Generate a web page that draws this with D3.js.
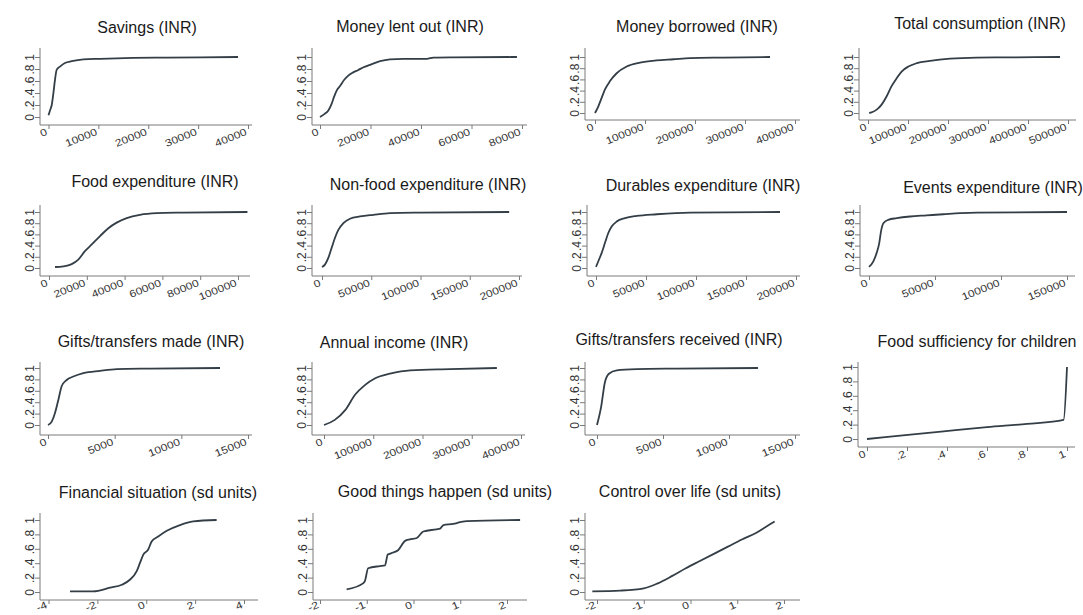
<!DOCTYPE html>
<html>
<head>
<meta charset="utf-8">
<script src="https://cdn.jsdelivr.net/npm/d3@7"></script>
<style>
  html, body { margin: 0; padding: 0; background: #ffffff; }
  svg { display: block; }
</style>
</head>
<body>
<script>
// ---------------- DATA ----------------
const titles = [
  "Savings (INR)", "Money lent out (INR)", "Money borrowed (INR)", "Total consumption (INR)",
  "Food expenditure (INR)", "Non-food expenditure (INR)", "Durables expenditure (INR)", "Events expenditure (INR)",
  "Gifts/transfers made (INR)", "Annual income (INR)", "Gifts/transfers received (INR)", "Food sufficiency for children",
  "Financial situation (sd units)", "Good things happen (sd units)", "Control over life (sd units)"
];

const yTickValues = [0, 0.2, 0.4, 0.6, 0.8, 1];
const yTickLabels = ["0", ".2", ".4", ".6", ".8", "1"];

const xTicks = [
  [0, 10000, 20000, 30000, 40000],
  [0, 20000, 40000, 60000, 80000],
  [0, 100000, 200000, 300000, 400000],
  [0, 100000, 200000, 300000, 400000, 500000],
  [0, 20000, 40000, 60000, 80000, 100000],
  [0, 50000, 100000, 150000, 200000],
  [0, 50000, 100000, 150000, 200000],
  [0, 50000, 100000, 150000],
  [0, 5000, 10000, 15000],
  [0, 100000, 200000, 300000, 400000],
  [0, 5000, 10000, 15000],
  [0, 0.2, 0.4, 0.6, 0.8, 1],
  [-4, -2, 0, 2, 4],
  [-2, -1, 0, 1, 2],
  [-2, -1, 0, 1, 2]
];
const xTickLabels = [
  ["0", "10000", "20000", "30000", "40000"],
  ["0", "20000", "40000", "60000", "80000"],
  ["0", "100000", "200000", "300000", "400000"],
  ["0", "100000", "200000", "300000", "400000", "500000"],
  ["0", "20000", "40000", "60000", "80000", "100000"],
  ["0", "50000", "100000", "150000", "200000"],
  ["0", "50000", "100000", "150000", "200000"],
  ["0", "50000", "100000", "150000"],
  ["0", "5000", "10000", "15000"],
  ["0", "100000", "200000", "300000", "400000"],
  ["0", "5000", "10000", "15000"],
  ["0", ".2", ".4", ".6", ".8", "1"],
  ["-4", "-2", "0", "2", "4"],
  ["-2", "-1", "0", "1", "2"],
  ["-2", "-1", "0", "1", "2"]
];

// Cumulative distribution series (value, cumulative share)
const savingsX = [0, 300, 650, 970, 1300, 1650, 2300, 3300, 4650, 7000, 10300, 17000, 23800, 38000];
const savingsY = [0.03, 0.11, 0.2, 0.39, 0.62, 0.79, 0.84, 0.9, 0.93, 0.96, 0.97, 0.985, 0.99, 1.0];

const lentX = [0, 1980, 3300, 4600, 5600, 6600, 8000, 9600, 11200, 13000, 15000, 17200, 19800, 23800, 27700, 33000, 42300, 44900, 52800, 78000];
const lentY = [0, 0.056, 0.11, 0.22, 0.34, 0.44, 0.52, 0.62, 0.69, 0.74, 0.78, 0.83, 0.87, 0.93, 0.96, 0.97, 0.97, 0.99, 0.995, 1.0];

const borrowedX = [0, 6700, 13300, 20000, 30000, 43300, 63300, 90000, 123000, 157000, 190000, 257000, 350000];
const borrowedY = [0, 0.12, 0.27, 0.42, 0.57, 0.71, 0.83, 0.9, 0.94, 0.96, 0.98, 0.99, 1.0];

const consumptionX = [3000, 9000, 21700, 34000, 46700, 59000, 71700, 84000, 101000, 122000, 155000, 205000, 272000, 355000, 480000];
const consumptionY = [0, 0.012, 0.06, 0.15, 0.3, 0.48, 0.62, 0.74, 0.83, 0.89, 0.93, 0.97, 0.99, 0.994, 1.0];

const foodX = [3200, 7600, 12000, 15500, 19000, 22600, 27000, 31400, 35800, 41100, 48100, 57000, 71000, 105000];
const foodY = [0.018, 0.03, 0.07, 0.15, 0.3, 0.42, 0.57, 0.71, 0.81, 0.89, 0.95, 0.98, 0.99, 1.0];

const nonFoodX = [0, 3000, 6400, 9800, 13200, 16600, 21700, 28400, 38600, 52100, 69000, 99500, 190000];
const nonFoodY = [0.018, 0.06, 0.18, 0.36, 0.54, 0.68, 0.8, 0.88, 0.92, 0.95, 0.98, 0.99, 1.0];

const durablesX = [0, 2300, 5700, 9000, 12300, 15700, 20700, 29000, 40700, 60700, 94000, 184000];
const durablesY = [0.02, 0.12, 0.27, 0.45, 0.625, 0.74, 0.83, 0.89, 0.93, 0.96, 0.99, 1.0];

const eventsX = [0, 3300, 5800, 7800, 9100, 10900, 14600, 21000, 31100, 43700, 56300, 69000, 81600, 150000];
const eventsY = [0.02, 0.12, 0.27, 0.45, 0.655, 0.8, 0.86, 0.89, 0.92, 0.94, 0.96, 0.98, 0.99, 1.0];

const giftsMadeX = [0, 280, 525, 775, 1025, 1400, 1900, 2650, 3900, 5150, 7650, 12900];
const giftsMadeY = [0, 0.06, 0.21, 0.44, 0.68, 0.79, 0.85, 0.91, 0.95, 0.98, 0.99, 1.0];

const incomeX = [0, 22000, 43000, 63000, 83000, 104000, 134000, 175000, 256000, 351000];
const incomeY = [0, 0.09, 0.26, 0.53, 0.7, 0.82, 0.9, 0.96, 0.98, 1.0];

const giftsRecX = [0, 300, 600, 900, 1500, 3000, 6000, 12200];
const giftsRecY = [0, 0.3, 0.75, 0.9, 0.96, 0.98, 0.99, 1.0];

const foodSuffX = [0, 0.217, 0.383, 0.6, 0.8, 0.983, 1.0];
const foodSuffY = [0, 0.06, 0.106, 0.165, 0.21, 0.266, 1.0];

const financialX = [-3.12, -2.17, -1.48, -1.0, -0.67, -0.39, -0.26, -0.12, 0.08, 0.22, 0.49, 0.84, 1.38, 1.92, 2.88];
const financialY = [0.01, 0.01, 0.06, 0.1, 0.17, 0.29, 0.4, 0.52, 0.59, 0.7, 0.77, 0.85, 0.93, 0.98, 1.0];

const goodThingsX = [-1.43, -1.08, -1.04, -0.97, -0.72, -0.61, -0.55, -0.47, -0.33, -0.18, -0.08, 0.07, 0.21, 0.49, 0.57, 0.64, 0.85, 1.0, 1.14, 2.28];
const goodThingsY = [0.037, 0.12, 0.15, 0.33, 0.36, 0.37, 0.52, 0.54, 0.58, 0.71, 0.73, 0.75, 0.84, 0.87, 0.88, 0.93, 0.945, 0.97, 0.985, 1.0];

const controlX = [-2.1, -1.5, -1.0, -0.7, -0.4, -0.1, 0.2, 0.5, 0.8, 1.1, 1.4, 1.6, 1.8];
const controlY = [0.01, 0.02, 0.05, 0.12, 0.22, 0.33, 0.43, 0.53, 0.63, 0.73, 0.82, 0.9, 0.98];

const seriesX = [savingsX, lentX, borrowedX, consumptionX, foodX, nonFoodX, durablesX, eventsX,
                 giftsMadeX, incomeX, giftsRecX, foodSuffX, financialX, goodThingsX, controlX];
const seriesY = [savingsY, lentY, borrowedY, consumptionY, foodY, nonFoodY, durablesY, eventsY,
                 giftsMadeY, incomeY, giftsRecY, foodSuffY, financialY, goodThingsY, controlY];

// ---------------- LAYOUT (pixel geometry of each panel) ----------------
const R1 = {top: 48, y0: 117, y1: 57, base: 125, lab: 9.5};
const R1b = {top: 48, y0: 113, y1: 57, base: 120, lab: 9.5};
const R2 = {top: 205, y0: 268, y1: 212, base: 276, lab: 9.5};
const R3 = {top: 362, y0: 425, y1: 368, base: 435, lab: 9.5};
const R3b = {top: 362, y0: 439, y1: 367, base: 447, lab: 9.5};
const R4 = {top: 513, y0: 592, y1: 520, base: 600, lab: 7.5};
const layout = [
  Object.assign({ax: 40, axEnd: 252, t0: 48.5, t1: 248, tx: 147, ty: 33}, R1),
  Object.assign({ax: 312, axEnd: 527, t0: 320, t1: 522, tx: 410, ty: 32}, R1),
  Object.assign({ax: 585, axEnd: 800, t0: 595, t1: 795, tx: 697, ty: 32}, R1b),
  Object.assign({ax: 859, axEnd: 1076, t0: 868, t1: 1068, tx: 980, ty: 29}, R1b),
  Object.assign({ax: 40, axEnd: 250, t0: 49, t1: 238, tx: 155, ty: 187}, R2),
  Object.assign({ax: 312, axEnd: 522, t0: 322, t1: 519, tx: 428, ty: 190}, R2),
  Object.assign({ax: 587, axEnd: 800, t0: 596, t1: 796, tx: 703, ty: 191}, R2),
  Object.assign({ax: 860, axEnd: 1075, t0: 869, t1: 1067, tx: 993, ty: 193}, R2),
  Object.assign({ax: 40, axEnd: 252, t0: 48, t1: 248, tx: 151, ty: 347}, R3),
  Object.assign({ax: 312, axEnd: 525, t0: 324, t1: 521, tx: 394, ty: 348}, R3),
  Object.assign({ax: 585, axEnd: 800, t0: 597, t1: 795, tx: 679, ty: 345}, R3),
  Object.assign({ax: 858, axEnd: 1075, t0: 867, t1: 1067, tx: 977, ty: 347}, R3b),
  Object.assign({ax: 40, axEnd: 258, t0: 48.5, t1: 244, tx: 158, ty: 498}, R4),
  Object.assign({ax: 313, axEnd: 527, t0: 320, t1: 507, tx: 445, ty: 497}, R4),
  Object.assign({ax: 585, axEnd: 800, t0: 597, t1: 784, tx: 690, ty: 497}, R4)
];

// ---------------- DRAW ----------------
const W = 1083, H = 615;
const svg = d3.select("body").append("svg").attr("width", W).attr("height", H)
  .style("font-family", "'Liberation Sans', Arial, Helvetica, sans-serif");
svg.append("rect").attr("width", W).attr("height", H).attr("fill", "#ffffff");

const axisColor = "#7a7a7a";
const labelColor = "#333333";
const lineColor = "#333e47";

titles.forEach((title, i) => {
  const L = layout[i];
  const ticks = xTicks[i];
  const g = svg.append("g");

  const x = d3.scaleLinear().domain([ticks[0], ticks[ticks.length - 1]]).range([L.t0, L.t1]);
  const y = d3.scaleLinear().domain([0, 1]).range([L.y0, L.y1]);

  // title
  g.append("text")
    .attr("x", L.tx).attr("y", L.ty)
    .attr("text-anchor", "middle")
    .attr("font-size", 16)
    .attr("fill", "#1a1a1a")
    .text(title);

  // axis lines
  g.append("line").attr("x1", L.ax).attr("x2", L.ax).attr("y1", L.top).attr("y2", L.base)
    .attr("stroke", axisColor).attr("stroke-width", 1);
  g.append("line").attr("x1", L.ax).attr("x2", L.axEnd).attr("y1", L.base).attr("y2", L.base)
    .attr("stroke", axisColor).attr("stroke-width", 1);

  // x axis
  const labels = xTickLabels[i];
  const gx = g.append("g").attr("transform", `translate(0,${L.base})`)
    .call(d3.axisBottom(x).tickValues(ticks).tickFormat((d, j) => labels[j]).tickSize(4));
  gx.select(".domain").remove();
  gx.attr("font-family", null).attr("font-size", null);
  gx.selectAll(".tick line").attr("stroke", axisColor);
  gx.selectAll(".tick text")
    .attr("x", null).attr("y", null).attr("dy", null)
    .attr("fill", labelColor)
    .attr("font-size", 12)
    .attr("text-anchor", "end")
    .attr("transform", `translate(-1,${L.lab}) rotate(-22) scale(1,0.85)`);

  // y axis
  const gy = g.append("g").attr("transform", `translate(${L.ax},0)`)
    .call(d3.axisLeft(y).tickValues(yTickValues).tickFormat((d, j) => yTickLabels[j]).tickSize(5));
  gy.select(".domain").remove();
  gy.attr("font-family", null).attr("font-size", null);
  gy.selectAll(".tick line").attr("stroke", axisColor);
  gy.selectAll(".tick text")
    .attr("x", null).attr("y", null).attr("dy", null)
    .attr("fill", labelColor)
    .attr("font-size", 12)
    .attr("text-anchor", "middle")
    .attr("transform", "translate(-6.5,0) rotate(-90)");

  // CDF line
  const pts = seriesX[i].map((v, j) => [v, seriesY[i][j]]);
  g.append("path")
    .datum(pts)
    .attr("fill", "none")
    .attr("stroke", lineColor)
    .attr("stroke-width", 1.8)
    .attr("stroke-linejoin", "round")
    .attr("d", d3.line().x(d => x(d[0])).y(d => y(d[1])).curve(d3.curveMonotoneX));
});
</script>
</body>
</html>
